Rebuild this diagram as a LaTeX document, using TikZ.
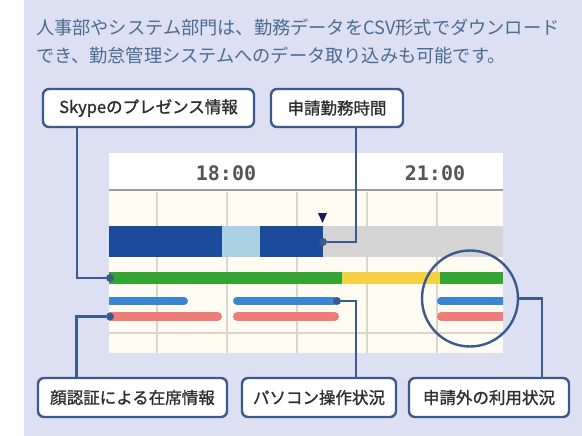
\documentclass[tikz,border=0pt]{standalone}
\usepackage{fontspec}
\usetikzlibrary{calc}
\newfontfamily\jp{Noto Sans CJK JP}
\newfontfamily\jplabel[FakeBold=1.2]{Noto Sans CJK JP}
\newfontfamily\timefont{DejaVu Sans Mono}
\definecolor{bgcol}{HTML}{DDE0F2}
\definecolor{headtext}{HTML}{4A6B94}
\definecolor{linec}{HTML}{3B5B8C}
\definecolor{labeltext}{HTML}{2E2E2E}
\definecolor{cream}{HTML}{FEFBF3}
\definecolor{gridc}{HTML}{D9D6CE}
\definecolor{sepc}{HTML}{9C9C9C}
\definecolor{dblue}{HTML}{1D4B9C}
\definecolor{lblue}{HTML}{A9D1E2}
\definecolor{graybar}{HTML}{D4D4D4}
\definecolor{greenbar}{HTML}{33A532}
\definecolor{yellowbar}{HTML}{F4D244}
\definecolor{bluebar}{HTML}{3A86D0}
\definecolor{redbar}{HTML}{EE7C78}
\definecolor{tricol}{HTML}{1B1B5C}
\definecolor{timec}{HTML}{555555}
\begin{document}
\begin{tikzpicture}[x=1pt,y=-1pt,
  labelbox/.style={draw=linec, line width=2.4pt, rounded corners=6pt, fill=white,
    text=labeltext, font=\jplabel\fontsize{16.5}{18}\selectfont, inner sep=0pt, minimum height=38pt},
  conn/.style={draw=linec, line width=2.4pt},
  dotn/.style={circle, fill=linec, inner sep=0pt, minimum size=8pt},
  headline/.style={anchor=west, text=headtext, font=\jp\fontsize{18.2}{20}\selectfont, inner sep=0pt},
  timelabel/.style={text=timec, font=\timefont\bfseries\fontsize{20}{22}\selectfont, inner sep=0pt}]
\useasboundingbox (0,0) rectangle (582,436);
\fill[white] (0,0) rectangle (582,436);
\fill[bgcol] (24,0) rectangle (582,436);

% heading text
\node[headline] (t1) at (36,28) {人事部やシステム部門は、勤務データをCSV形式でダウンロード};
\node[headline] (t2) at (36,56) {でき、勤怠管理システムへのデータ取り込みも可能です。};

% chart
\fill[white] (109,153) rectangle (503,190);
\fill[cream] (109,190) rectangle (503,353);
\foreach \x in {157,227,297,367,437} {
  \draw[gridc, line width=1.2pt] (\x,192) -- (\x,353);
}
\draw[gridc, line width=1.2pt] (109,333) -- (503,333);
\draw[sepc, line width=2.5pt] (109,190) -- (503,190);
\node[timelabel] (h18) at (226,173) {18:00};
\node[timelabel] (h21) at (435,173) {21:00};

% top blue bar row
\fill[dblue] (109,226) rectangle (222,257);
\fill[lblue] (222,226) rectangle (260,257);
\fill[dblue] (260,226) rectangle (323,257);
\fill[graybar] (323,226) rectangle (503,257);
\fill[tricol] (318,213) -- (327,213) -- (322.5,223) -- cycle;

% green/yellow row
\fill[greenbar] (109,272) rectangle (342,284);
\fill[yellowbar] (342,272) rectangle (440,284);
\fill[greenbar] (440,272) rectangle (503,284);

\begin{scope}
\clip (109,153) rectangle (503,353);
\draw[bluebar, line width=8pt, line cap=round] (100,301) -- (184,301);
\draw[bluebar, line width=8pt, line cap=round] (237,301) -- (334,301);
\draw[bluebar, line width=8pt, line cap=round] (441,301) -- (512,301);
\draw[redbar, line width=9pt, line cap=round] (100,316.5) -- (217.5,316.5);
\draw[redbar, line width=9pt, line cap=round] (237.5,316.5) -- (334.5,316.5);
\draw[redbar, line width=9pt, line cap=round] (441.5,316.5) -- (512,316.5);
\end{scope}

% label boxes
\node[labelbox, minimum width=211pt] (skype) at (148.5,108) {Skypeのプレゼンス情報};
\node[labelbox, minimum width=132pt] (shinsei) at (337,108) {申請勤務時間};
\node[labelbox, minimum width=189pt, minimum height=39pt] (face) at (132.5,397.5) {顔認証による在席情報};
\node[labelbox, minimum width=154pt, minimum height=39pt] (pc) at (319,397.5) {パソコン操作状況};
\node[labelbox, minimum width=160pt, minimum height=39pt] (usage) at (489,397.5) {申請外の利用状況};

% ring
\node[draw=linec, line width=2.4pt, circle, minimum size=96pt, inner sep=0pt] (ring) at (470,298.5) {};

% dots
\node[dotn] (dskype) at (110,278) {};
\node[dotn] (dface) at (110,316.5) {};
\node[dotn] (dpc) at (337,301) {};
\node[dotn] (dshin) at (323,242) {};

% connectors
\draw[conn] ([xshift=-71.5pt]skype.south) |- (dskype);
\draw[conn] ([xshift=-56pt]face.north) |- (dface);
\draw[conn] (dshin) -| ([xshift=19pt]shinsei.south);
\draw[conn] (dpc) -| ([xshift=37pt]pc.north);
\draw[conn] (ring.east) -| ([xshift=53pt]usage.north);
\end{tikzpicture}
\end{document}
